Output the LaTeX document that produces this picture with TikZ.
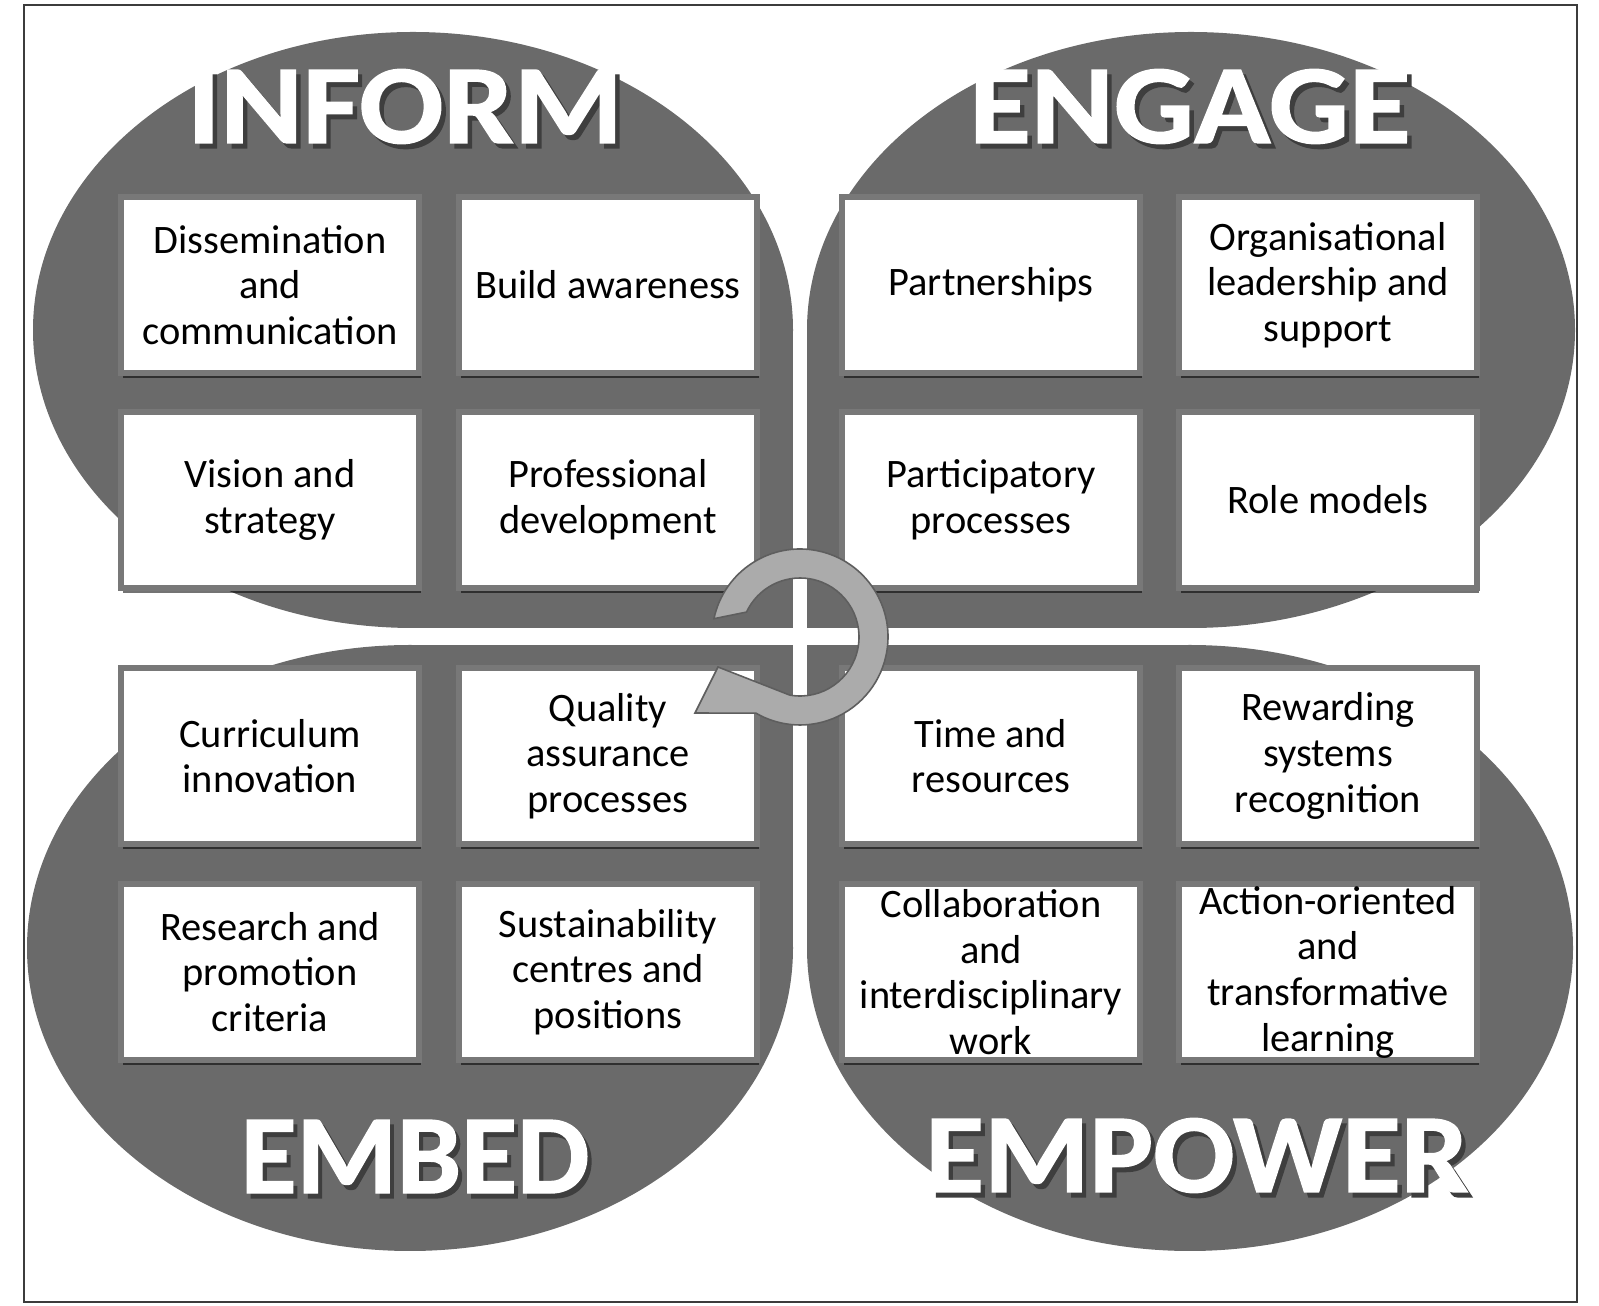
\documentclass[tikz,border=0pt]{standalone}
\usepackage{fontspec}
\setmainfont{Carlito}
\newfontfamily\headfont{Carlito}[BoldFeatures={FakeBold=1.2}]
\usetikzlibrary{shadows}

% heading text with its shadow set behind it, in one box
\newcommand{\headline}[2]{\scalebox{#1}[1]{\rlap{\kern2.3pt\raisebox{-2.8pt}{\textcolor{shade}{#2}}}#2}}

\begin{document}
\begin{tikzpicture}[x=0.02cm, y=0.02cm,
  card/.style={fill=white, draw=rim, line width=3.4pt, minimum width=5.96cm, minimum height=3.52cm,
    inner sep=0pt, align=center, font=\fontsize{23}{26}\selectfont,
    drop shadow={shadow xshift=1.2pt, shadow yshift=-2.8pt, opacity=0.55, fill=black}},
  title/.style={anchor=base, inner sep=0pt, text=white, font=\headfont\bfseries\fontsize{64}{70}\selectfont}]
\definecolor{blob}{HTML}{6A6A6A}
\definecolor{rim}{HTML}{787878}
\definecolor{shade}{HTML}{3E3E3E}
\definecolor{ringfill}{HTML}{ABABAB}
\definecolor{ringline}{HTML}{5E5E5E}
\definecolor{framecol}{HTML}{3C3C3C}
\useasboundingbox (0,0) rectangle (1599,1305);

% four blobs, each an ellipse squared off towards the middle
\fill[blob] (413,975) ellipse [x radius=380, y radius=298];
\fill[blob] (413,677) rectangle (793,975);
\fill[blob] (1191,975) ellipse [x radius=384, y radius=298];
\fill[blob] (807,677) rectangle (1191,975);
\fill[blob] (410,357) ellipse [x radius=383, y radius=303];
\fill[blob] (410,660) rectangle (793,357);
\fill[blob] (1190,357) ellipse [x radius=383, y radius=303];
\fill[blob] (807,660) rectangle (1190,357);

% inform
\node[card] (dissem) at (270,1020) {Dissemination\\and\\communication};
\node[card] (aware) at (608,1020) {Build awareness};
\node[card] (vision) at (270,805) {Vision and\\strategy};
\node[card] (profdev) at (608,805) {Professional\\development};
% engage
\node[card] (partner) at (991,1020) {Partnerships};
\node[card] (orglead) at (1328,1020) {Organisational\\leadership and\\support};
\node[card] (particip) at (991,805) {Participatory\\processes};
\node[card] (rolemod) at (1328,805) {Role models};
% embed
\node[card] (curric) at (270,549) {Curriculum\\innovation};
\node[card] (quality) at (608,549) {Quality\\assurance\\processes};
\node[card] (research) at (270,333) {Research and\\promotion\\criteria};
\node[card] (sustain) at (608,333) {Sustainability\\centres and\\positions};
% empower
\node[card] (timeres) at (991,549) {Time and\\resources};
\node[card] (reward) at (1328,549) {Rewarding\\systems\\recognition};
\node[card] (collab) at (991,333) {Collaboration\\and\\interdisciplinary\\work};
\node[card] (action) at (1328,333) {Action-oriented\\and\\transformative\\learning};

% cycle arrow over the cross
\coordinate (hub) at (800,668);
\filldraw[fill=ringfill, draw=ringline, line width=0.9pt]
  ([shift={(168:88)}]hub) arc[start angle=168, end angle=-120, radius=88]
  -- (695,592) -- (718,638) -- ([shift={(-100:59)}]hub)
  arc[start angle=-100, end angle=155, radius=59] -- cycle;

% headings
\node[title] (inform) at (405,1162) {\headline{1.11}{INFORM}};
\node[title] (engage) at (1190,1162) {\headline{1.12}{ENGAGE}};
\node[title] (embed) at (415,112) {\headline{1.02}{EMBED}};
\node[title] (empower) at (1197,113) {\headline{1.07}{EMPOWER}};

\draw[framecol, line width=1.4pt] (24,3) rectangle (1577,1300);
\end{tikzpicture}
\end{document}
